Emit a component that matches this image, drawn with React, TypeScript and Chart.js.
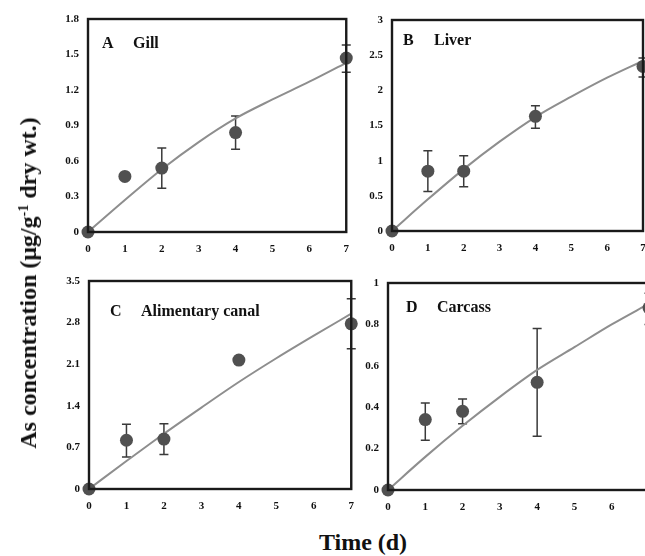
import React, { useEffect, useRef } from "react";
import { Chart, registerables } from "chart.js";

Chart.register(...registerables);

// ---- data ----
const sampleDays = [0, 1, 2, 4, 7];
const fitDays = [0, 1, 2, 3, 4, 5, 6, 7];
const xTicks = [0, 1, 2, 3, 4, 5, 6, 7];

const gillMean = [0, 0.47, 0.54, 0.84, 1.47];
const gillLow = [null, null, 0.37, 0.7, 1.35];
const gillHigh = [null, null, 0.71, 0.98, 1.58];
const gillFit = [0, 0.27, 0.53, 0.76, 0.96, 1.12, 1.27, 1.43];
const gillTicks = [0, 0.3, 0.6, 0.9, 1.2, 1.5, 1.8];

const liverMean = [0, 0.85, 0.85, 1.63, 2.34];
const liverLow = [null, 0.56, 0.63, 1.46, 2.19];
const liverHigh = [null, 1.14, 1.07, 1.78, 2.46];
const liverFit = [0, 0.45, 0.88, 1.27, 1.62, 1.91, 2.18, 2.42];
const liverTicks = [0, 0.5, 1, 1.5, 2, 2.5, 3];

const canalMean = [0, 0.82, 0.84, 2.17, 2.78];
const canalLow = [null, 0.54, 0.58, null, 2.36];
const canalHigh = [null, 1.09, 1.1, null, 3.2];
const canalFit = [0, 0.47, 0.93, 1.37, 1.8, 2.2, 2.58, 2.95];
const canalTicks = [0, 0.7, 1.4, 2.1, 2.8, 3.5];

const carcassMean = [0, 0.34, 0.38, 0.52, 0.88];
const carcassLow = [null, 0.24, 0.32, 0.26, 0.8];
const carcassHigh = [null, 0.42, 0.44, 0.78, 0.95];
const carcassFit = [0, 0.16, 0.31, 0.45, 0.58, 0.69, 0.8, 0.9];
const carcassTicks = [0, 0.2, 0.4, 0.6, 0.8, 1];

const SERIF = "'Liberation Serif', 'Times New Roman', serif";

type PanelDef = {
  letter: string;
  name: string;
  mean: number[];
  low: (number | null)[];
  high: (number | null)[];
  fit: number[];
  yTicks: number[];
  left: number;
  top: number;
  width: number;
  height: number;
  yw: number;
  xh: number;
  padTop: number;
  padRight: number;
  labelDx: number;
  labelDy: number;
};

const panels: PanelDef[] = [
  {
    letter: "A", name: "Gill", mean: gillMean, low: gillLow, high: gillHigh, fit: gillFit, yTicks: gillTicks,
    left: 30, top: 0, width: 330, height: 262, yw: 58, xh: 30, padTop: 19, padRight: 13, labelDx: 14, labelDy: 25,
  },
  {
    letter: "B", name: "Liver", mean: liverMean, low: liverLow, high: liverHigh, fit: liverFit, yTicks: liverTicks,
    left: 335, top: 0, width: 330, height: 262, yw: 57, xh: 31, padTop: 20, padRight: 22, labelDx: 11, labelDy: 21,
  },
  {
    letter: "C", name: "Alimentary canal", mean: canalMean, low: canalLow, high: canalHigh, fit: canalFit, yTicks: canalTicks,
    left: 30, top: 262, width: 335, height: 258, yw: 59, xh: 31, padTop: 19, padRight: 13, labelDx: 21, labelDy: 31,
  },
  {
    letter: "D", name: "Carcass", mean: carcassMean, low: carcassLow, high: carcassHigh, fit: carcassFit, yTicks: carcassTicks,
    left: 330, top: 262, width: 335, height: 258, yw: 58, xh: 30, padTop: 21, padRight: 16, labelDx: 18, labelDy: 25,
  },
];

function fmt(v: number) {
  return String(Math.round(v * 10) / 10);
}

function Panel({ p }: { p: PanelDef }) {
  const ref = useRef<HTMLCanvasElement | null>(null);
  useEffect(() => {
    if (!ref.current) return;
    const boxPlugin = {
      id: "boxPlugin",
      beforeDatasetsDraw(chart: any) {
        const { ctx, chartArea, scales } = chart;
        const xs = scales.x;
        const ys = scales.y;
        ctx.save();
        ctx.strokeStyle = "#3a3a3a";
        ctx.lineWidth = 1.5;
        for (let i = 0; i < sampleDays.length; i++) {
          const lo = p.low[i];
          const hi = p.high[i];
          if (lo == null || hi == null) continue;
          const x = xs.getPixelForValue(sampleDays[i]);
          const y1 = ys.getPixelForValue(lo);
          const y2 = ys.getPixelForValue(hi);
          ctx.beginPath();
          ctx.moveTo(x, y1);
          ctx.lineTo(x, y2);
          ctx.moveTo(x - 4.5, y1);
          ctx.lineTo(x + 4.5, y1);
          ctx.moveTo(x - 4.5, y2);
          ctx.lineTo(x + 4.5, y2);
          ctx.stroke();
        }
        ctx.restore();
        ctx.save();
        ctx.fillStyle = "#111";
        ctx.font = `bold 16px ${SERIF}`;
        ctx.textBaseline = "middle";
        ctx.textAlign = "left";
        ctx.fillText(p.letter, chartArea.left + p.labelDx, chartArea.top + p.labelDy);
        ctx.fillText(p.name, chartArea.left + p.labelDx + 31, chartArea.top + p.labelDy);
        ctx.restore();
      },
      afterDatasetsDraw(chart: any) {
        const { ctx, chartArea } = chart;
        ctx.save();
        ctx.strokeStyle = "#1a1a1a";
        ctx.lineWidth = 2.4;
        ctx.strokeRect(chartArea.left, chartArea.top, chartArea.right - chartArea.left, chartArea.bottom - chartArea.top);
        ctx.restore();
      },
    };
    const chart = new Chart(ref.current, {
      type: "scatter",
      data: {
        datasets: [
          {
            type: "scatter",
            data: sampleDays.map((d, i) => ({ x: d, y: p.mean[i] })),
            pointRadius: 6.5,
            pointBackgroundColor: "#505050",
            pointBorderWidth: 0,
            borderWidth: 0,
            clip: false as any,
            order: 0,
          } as any,
          {
            type: "line",
            data: fitDays.map((d, i) => ({ x: d, y: p.fit[i] })),
            borderColor: "#8e8e8e",
            borderWidth: 2,
            pointRadius: 0,
            cubicInterpolationMode: "monotone",
            fill: false,
            order: 1,
          } as any,
        ],
      },
      options: {
        responsive: false,
        animation: false,
        layout: { padding: { top: p.padTop, right: p.padRight, left: 0, bottom: 0 } },
        plugins: { legend: { display: false }, tooltip: { enabled: false } },
        scales: {
          x: {
            type: "linear",
            min: 0,
            max: 7,
            grid: { display: false, drawTicks: false },
            border: { display: false },
            afterBuildTicks: (s: any) => {
              s.ticks = xTicks.map((v) => ({ value: v }));
            },
            afterFit: (s: any) => {
              s.height = p.xh;
            },
            ticks: {
              padding: 11,
              color: "#111",
              font: { family: SERIF, size: 11, weight: "bold" },
              maxRotation: 0,
              autoSkip: false,
              callback: (v: any) => String(v),
            },
          },
          y: {
            type: "linear",
            min: 0,
            max: p.yTicks[p.yTicks.length - 1],
            grid: { display: false, drawTicks: false },
            border: { display: false },
            afterBuildTicks: (s: any) => {
              s.ticks = p.yTicks.map((v) => ({ value: v }));
            },
            afterFit: (s: any) => {
              s.width = p.yw;
            },
            ticks: {
              padding: 9,
              color: "#111",
              font: { family: SERIF, size: 11, weight: "bold" },
              autoSkip: false,
              callback: (v: any) => fmt(Number(v)),
            },
          },
        },
      } as any,
      plugins: [boxPlugin],
    });
    return () => chart.destroy();
  }, []);
  return (
    <canvas
      ref={ref}
      width={p.width}
      height={p.height}
      style={{ position: "absolute", left: p.left, top: p.top, width: p.width, height: p.height }}
    />
  );
}

export default function App() {
  return (
    <div
      style={{
        position: "absolute",
        left: 0,
        top: 0,
        width: 645,
        height: 556,
        overflow: "hidden",
        background: "#fff",
      }}
    >
      {panels.map((p) => (
        <Panel key={p.letter} p={p} />
      ))}
      <div
        style={{
          position: "absolute",
          left: 28,
          top: 283,
          transform: "translate(-50%, -50%) rotate(-90deg)",
          whiteSpace: "nowrap",
          font: `bold 24px ${SERIF}`,
          lineHeight: 1,
          color: "#111",
        }}
      >
        As concentration (μg/g<sup style={{ fontSize: 14, lineHeight: 0, verticalAlign: "8px" }}>-1</sup> dry wt.)
      </div>
      <div
        style={{
          position: "absolute",
          left: 363,
          top: 530,
          transform: "translateX(-50%)",
          whiteSpace: "nowrap",
          font: `bold 24px ${SERIF}`,
          lineHeight: 1,
          color: "#111",
        }}
      >
        Time (d)
      </div>
    </div>
  );
}
